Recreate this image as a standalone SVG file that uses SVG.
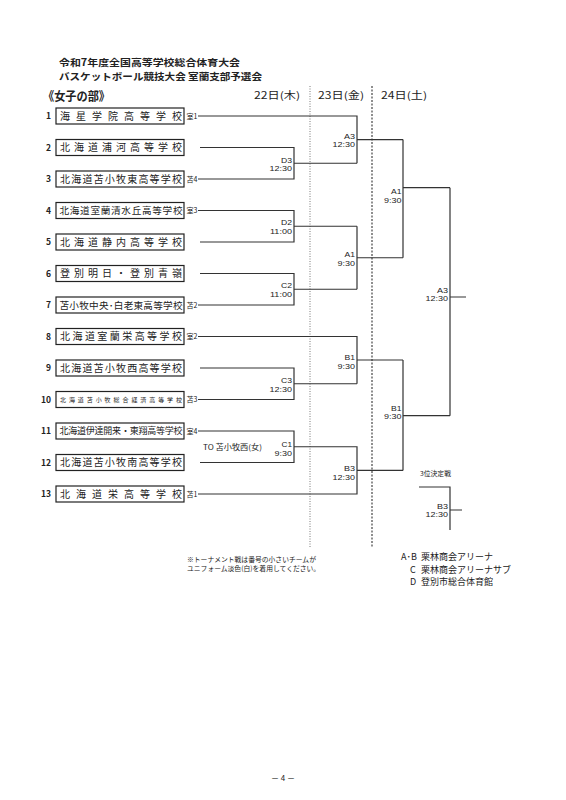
<svg xmlns="http://www.w3.org/2000/svg" width="566" height="800" viewBox="0 0 566 800">
<style>
.bg{fill:#fff}
.ln{stroke:#333;stroke-width:1.2;fill:none}
.box{fill:#fff;stroke:#222;stroke-width:1.2}
.jp{font-family:"Noto Sans CJK JP","Noto Sans",sans-serif;fill:#222}
.tm{font-size:10px}
.num{font-size:8.5px;font-weight:bold;text-anchor:end}
.ven{font-size:7px}
.lab{font-family:"Liberation Sans",Arial,sans-serif;font-size:7.7px;fill:#222;text-anchor:end}
.sm{font-size:6.8px}
.div1{stroke:#555;stroke-width:0.8;stroke-dasharray:1 1.5}
.div2{stroke:#444;stroke-width:1.2;stroke-dasharray:2 1.5}
</style>
<rect class="bg" x="0" y="0" width="566" height="800"/>
<g id="header">
<text class="jp" x="59" y="65.5" font-size="9.6" font-weight="bold" textLength="181" lengthAdjust="spacingAndGlyphs">令和7年度全国高等学校総合体育大会</text>
<text class="jp" x="59" y="79.5" font-size="9.6" font-weight="bold" textLength="203" lengthAdjust="spacingAndGlyphs">バスケットボール競技大会 室蘭支部予選会</text>
<text class="jp" x="43" y="100.5" font-size="12.5" font-weight="bold" textLength="67" lengthAdjust="spacingAndGlyphs">《女子の部》</text>
<text class="jp" x="254" y="99" font-size="10" textLength="46" lengthAdjust="spacingAndGlyphs">22日(木)</text>
<text class="jp" x="318" y="99" font-size="10" textLength="46" lengthAdjust="spacingAndGlyphs">23日(金)</text>
<text class="jp" x="381" y="99" font-size="10" textLength="46" lengthAdjust="spacingAndGlyphs">24日(土)</text>
</g>
<g id="dividers">
<line class="div1" x1="310" y1="86" x2="310" y2="548"/>
<line class="div2" x1="372" y1="86" x2="372" y2="548"/>
</g>
<g id="team1"><text class="jp num" x="51" y="119">1</text><rect class="box" x="56" y="108" width="128" height="16"/><text class="jp tm" x="60" y="119.5" textLength="122" lengthAdjust="spacing">海星学院高等学校</text><text class="jp ven" x="186.5" y="118.5">室1</text></g>
<g id="team2"><text class="jp num" x="51" y="150.5">2</text><rect class="box" x="56" y="139.5" width="128" height="16"/><text class="jp tm" x="60" y="151" textLength="122" lengthAdjust="spacing">北海道浦河高等学校</text></g>
<g id="team3"><text class="jp num" x="51" y="182">3</text><rect class="box" x="56" y="171" width="128" height="16"/><text class="jp tm" x="60" y="182.5" textLength="122" lengthAdjust="spacing">北海道苫小牧東高等学校</text><text class="jp ven" x="186.5" y="181.5">苫4</text></g>
<g id="team4"><text class="jp num" x="51" y="213.5">4</text><rect class="box" x="56" y="202.5" width="128" height="16"/><text class="jp" font-size="9.6" x="59.5" y="214" textLength="123" lengthAdjust="spacing">北海道室蘭清水丘高等学校</text><text class="jp ven" x="186.5" y="213">室3</text></g>
<g id="team5"><text class="jp num" x="51" y="245">5</text><rect class="box" x="56" y="234" width="128" height="16"/><text class="jp tm" x="60" y="245.5" textLength="122" lengthAdjust="spacing">北海道静内高等学校</text></g>
<g id="team6"><text class="jp num" x="51" y="276.5">6</text><rect class="box" x="56" y="265.5" width="128" height="16"/><text class="jp tm" x="60" y="277" textLength="122" lengthAdjust="spacing">登別明日・登別青嶺</text></g>
<g id="team7"><text class="jp num" x="51" y="308">7</text><rect class="box" x="56" y="297" width="128" height="16"/><text class="jp" font-size="9.6" x="59.5" y="308.5" textLength="123" lengthAdjust="spacing">苫小牧中央･白老東高等学校</text><text class="jp ven" x="186.5" y="307.5">苫2</text></g>
<g id="team8"><text class="jp num" x="51" y="339.5">8</text><rect class="box" x="56" y="328.5" width="128" height="16"/><text class="jp tm" x="60" y="340" textLength="122" lengthAdjust="spacing">北海道室蘭栄高等学校</text><text class="jp ven" x="186.5" y="339">室2</text></g>
<g id="team9"><text class="jp num" x="51" y="371">9</text><rect class="box" x="56" y="360" width="128" height="16"/><text class="jp tm" x="60" y="371.5" textLength="122" lengthAdjust="spacing">北海道苫小牧西高等学校</text></g>
<g id="team10"><text class="jp num" x="51" y="402.5">10</text><rect class="box" x="56" y="391.5" width="128" height="16"/><text class="jp" font-size="6" x="60" y="401.8" textLength="122" lengthAdjust="spacing">北海道苫小牧総合経済高等学校</text><text class="jp ven" x="186.5" y="402">苫3</text></g>
<g id="team11"><text class="jp num" x="51" y="434">11</text><rect class="box" x="56" y="423" width="128" height="16"/><text class="jp" font-size="9" x="59.5" y="434.3" textLength="123" lengthAdjust="spacing">北海道伊達開来・東翔高等学校</text><text class="jp ven" x="186.5" y="433.5">室4</text></g>
<g id="team12"><text class="jp num" x="51" y="465.5">12</text><rect class="box" x="56" y="454.5" width="128" height="16"/><text class="jp tm" x="60" y="466" textLength="122" lengthAdjust="spacing">北海道苫小牧南高等学校</text></g>
<g id="team13"><text class="jp num" x="51" y="497">13</text><rect class="box" x="56" y="486" width="128" height="16"/><text class="jp tm" x="60" y="497.5" textLength="122" lengthAdjust="spacing">北海道栄高等学校</text><text class="jp ven" x="186.5" y="496.5">苫1</text></g>
<g id="connectors">
<path class="ln" d="M198,116 H357 V163.25 M357,139.6 H403"/>
<path class="ln" d="M200,147.5 H294 V179 H198 M294,163.25 H357"/>
<path class="ln" d="M198,210.5 H294 V242 H200 M294,226.25 H357"/>
<path class="ln" d="M200,273.5 H294 V305 H198 M294,289.25 H357"/>
<path class="ln" d="M357,226.25 V289.25 M357,257.75 H403"/>
<path class="ln" d="M403,139.6 V257.75 M403,187.7 H450"/>
<path class="ln" d="M198,336.5 H357 V383.75 M357,360 H403"/>
<path class="ln" d="M200,368 H294 V399.5 H198 M294,383.75 H357"/>
<path class="ln" d="M198,431 H294 V462.5 H200 M294,446.75 H357 V494 H198 M357,470.4 H403"/>
<path class="ln" d="M403,360 V470.4 M403,415.7 H450"/>
<path class="ln" d="M450,187.7 V415.7 M450,297 H466"/>
<path class="ln" d="M419,487 H450 V530 M450,510 H462"/>
</g>
<g id="labels">
<text class="lab" x="292" y="162.5" textLength="11" lengthAdjust="spacingAndGlyphs">D3</text><text class="lab" x="292" y="171.3" textLength="22.5" lengthAdjust="spacingAndGlyphs">12:30</text>
<text class="lab" x="292" y="225" textLength="11" lengthAdjust="spacingAndGlyphs">D2</text><text class="lab" x="292" y="233.8" textLength="22" lengthAdjust="spacingAndGlyphs">11:00</text>
<text class="lab" x="292" y="288" textLength="11" lengthAdjust="spacingAndGlyphs">C2</text><text class="lab" x="292" y="296.8" textLength="22" lengthAdjust="spacingAndGlyphs">11:00</text>
<text class="lab" x="292" y="383" textLength="11" lengthAdjust="spacingAndGlyphs">C3</text><text class="lab" x="292" y="391.8" textLength="22.5" lengthAdjust="spacingAndGlyphs">12:30</text>
<text class="lab" x="292" y="447" textLength="10.5" lengthAdjust="spacingAndGlyphs">C1</text><text class="lab" x="292" y="455.8" textLength="17.5" lengthAdjust="spacingAndGlyphs">9:30</text>
<text class="lab" x="355" y="138.5" textLength="11" lengthAdjust="spacingAndGlyphs">A3</text><text class="lab" x="355" y="147.3" textLength="22.5" lengthAdjust="spacingAndGlyphs">12:30</text>
<text class="lab" x="355" y="257" textLength="10.5" lengthAdjust="spacingAndGlyphs">A1</text><text class="lab" x="355" y="265.8" textLength="17.5" lengthAdjust="spacingAndGlyphs">9:30</text>
<text class="lab" x="355" y="360" textLength="10.5" lengthAdjust="spacingAndGlyphs">B1</text><text class="lab" x="355" y="368.8" textLength="17.5" lengthAdjust="spacingAndGlyphs">9:30</text>
<text class="lab" x="355" y="471" textLength="11" lengthAdjust="spacingAndGlyphs">B3</text><text class="lab" x="355" y="479.8" textLength="22.5" lengthAdjust="spacingAndGlyphs">12:30</text>
<text class="lab" x="401.5" y="194" textLength="10.5" lengthAdjust="spacingAndGlyphs">A1</text><text class="lab" x="401.5" y="202.8" textLength="17.5" lengthAdjust="spacingAndGlyphs">9:30</text>
<text class="lab" x="401.5" y="410.5" textLength="10.5" lengthAdjust="spacingAndGlyphs">B1</text><text class="lab" x="401.5" y="419.3" textLength="17.5" lengthAdjust="spacingAndGlyphs">9:30</text>
<text class="lab" x="448" y="292.5" textLength="11" lengthAdjust="spacingAndGlyphs">A3</text><text class="lab" x="448" y="301.3" textLength="22.5" lengthAdjust="spacingAndGlyphs">12:30</text>
<text class="lab" x="448" y="508.5" textLength="11" lengthAdjust="spacingAndGlyphs">B3</text><text class="lab" x="448" y="517.3" textLength="22.5" lengthAdjust="spacingAndGlyphs">12:30</text>
<text class="jp" font-size="7.5" x="203" y="450" textLength="59" lengthAdjust="spacingAndGlyphs">TO  苫小牧西(女)</text>
<text class="jp sm" x="420" y="475.5">3位決定戦</text>
</g>
<g id="notes">
<text class="jp" font-size="6.8" x="187" y="562">※トーナメント戦は番号の小さいチームが</text>
<text class="jp" font-size="6.8" x="187" y="570.5">ユニフォーム淡色(白)を着用してください。</text>
<text class="jp" font-size="9" x="401" y="560">A･B</text><text class="jp" font-size="9" x="421" y="560">栗林商会アリーナ</text>
<text class="jp" font-size="9" x="410" y="572.5">C</text><text class="jp" font-size="9" x="421" y="572.5">栗林商会アリーナサブ</text>
<text class="jp" font-size="9" x="410" y="584.5">D</text><text class="jp" font-size="9" x="421" y="584.5">登別市総合体育館</text>
<text class="jp" font-size="8" x="283" y="781" text-anchor="middle">－ 4 －</text>
</g>
</svg>
